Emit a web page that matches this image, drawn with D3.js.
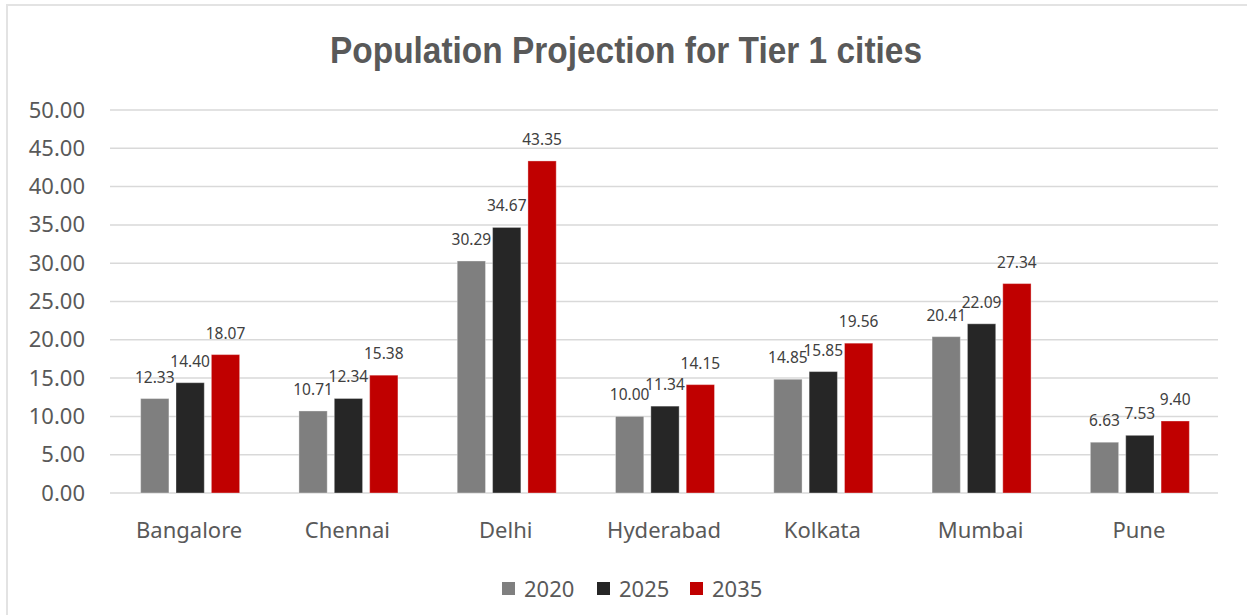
<!DOCTYPE html>
<html>
<head>
<meta charset="utf-8">
<script src="https://cdn.jsdelivr.net/npm/d3@7"></script>
<style>
  body { margin: 0; background: #fff; }
  svg { display: block; }
</style>
</head>
<body>
<script>
var w = 1247;
var h = 615;

var cities = ["Bangalore", "Chennai", "Delhi", "Hyderabad", "Kolkata", "Mumbai", "Pune"];
var years = ["2020", "2025", "2035"];
var values2020 = [12.33, 10.71, 30.29, 10.00, 14.85, 20.41, 6.63];
var values2025 = [14.40, 12.34, 34.67, 11.34, 15.85, 22.09, 7.53];
var values2035 = [18.07, 15.38, 43.35, 14.15, 19.56, 27.34, 9.40];
var yTicks = [0, 5, 10, 15, 20, 25, 30, 35, 40, 45, 50];
var colors = ["#7f7f7f", "#262626", "#c00000"];

var series = [values2020, values2025, values2035];
var dataset = [];
cities.forEach(function(c, i) {
  years.forEach(function(y, j) {
    dataset.push({city: c, year: y, value: series[j][i]});
  });
});

var svg = d3.select("body").append("svg")
  .attr("width", w)
  .attr("height", h);

// chart frame
svg.append("path")
  .attr("d", "M7,615 L7,5 L1247,5")
  .attr("fill", "none")
  .attr("stroke", "#e3e3e3")
  .attr("stroke-width", 2);

var plotLeft = 110, plotRight = 1218, plotTop = 110, plotBottom = 493;

var x = d3.scaleBand()
  .domain(cities)
  .range([plotLeft, plotRight]);

var x1 = d3.scaleBand()
  .domain(years)
  .range([0, 99])
  .paddingInner(0.2);

var y = d3.scaleLinear()
  .domain([0, 50])
  .range([plotBottom, plotTop]);

// gridlines
svg.append("g")
  .selectAll("line")
  .data(yTicks)
  .enter()
  .append("line")
  .attr("x1", plotLeft)
  .attr("x2", plotRight)
  .attr("y1", function(d) { return y(d); })
  .attr("y2", function(d) { return y(d); })
  .attr("stroke", "#d9d9d9")
  .attr("stroke-width", 1.5);

// y axis labels
var yAxis = d3.axisLeft(y)
  .tickValues(yTicks)
  .tickSize(0)
  .tickPadding(25)
  .tickFormat(d3.format(".2f"));

var gy = svg.append("g")
  .attr("transform", "translate(" + plotLeft + ",0)")
  .call(yAxis);
gy.select(".domain").remove();
gy.selectAll("text")
  .attr("font-family", "Noto Sans")
  .attr("font-size", 22)
  .attr("fill", "#595959");

// x axis labels
var xAxis = d3.axisBottom(x)
  .tickSize(0)
  .tickPadding(29);

var gx = svg.append("g")
  .attr("transform", "translate(0," + plotBottom + ")")
  .call(xAxis);
gx.select(".domain").remove();
gx.selectAll("text")
  .attr("font-family", "Noto Sans")
  .attr("font-size", 22)
  .attr("fill", "#595959");

var groupOffset = (x.bandwidth() - 99) / 2;

// bars
svg.append("g")
  .selectAll("rect")
  .data(dataset)
  .enter()
  .append("rect")
  .attr("x", function(d) { return x(d.city) + groupOffset + x1(d.year) + 1; })
  .attr("y", function(d) { return y(d.value); })
  .attr("width", x1.bandwidth())
  .attr("height", function(d) { return plotBottom - y(d.value); })
  .attr("fill", function(d) { return colors[years.indexOf(d.year)]; })
  .attr("stroke", "#ffffff")
  .attr("stroke-opacity", 0.35)
  .attr("stroke-width", 1);

// data labels
svg.append("g")
  .selectAll("text")
  .data(dataset)
  .enter()
  .append("text")
  .attr("x", function(d) { return x(d.city) + groupOffset + x1(d.year) + 1 + x1.bandwidth() / 2; })
  .attr("y", function(d) { return y(d.value) - 16; })
  .attr("text-anchor", "middle")
  .attr("font-family", "Noto Sans")
  .attr("font-size", 15.5)
  .attr("fill", "#404040")
  .text(function(d) { return d3.format(".2f")(d.value); });

// title
svg.append("text")
  .attr("x", 626)
  .attr("y", 63)
  .attr("text-anchor", "middle")
  .attr("font-family", "Liberation Sans")
  .attr("font-weight", "bold")
  .attr("font-size", 36)
  .attr("textLength", 592)
  .attr("lengthAdjust", "spacingAndGlyphs")
  .attr("fill", "#595959")
  .text("Population Projection for Tier 1 cities");

// legend
var legendX = [502, 597, 690];
var legend = svg.append("g")
  .selectAll("g")
  .data(years)
  .enter()
  .append("g")
  .attr("transform", function(d, i) { return "translate(" + legendX[i] + ",582)"; });

legend.append("rect")
  .attr("width", 13)
  .attr("height", 13)
  .attr("fill", function(d, i) { return colors[i]; });

legend.append("text")
  .attr("x", 22)
  .attr("y", 14.5)
  .attr("font-family", "Noto Sans")
  .attr("font-size", 22)
  .attr("fill", "#595959")
  .text(function(d) { return d; });
</script>
</body>
</html>
